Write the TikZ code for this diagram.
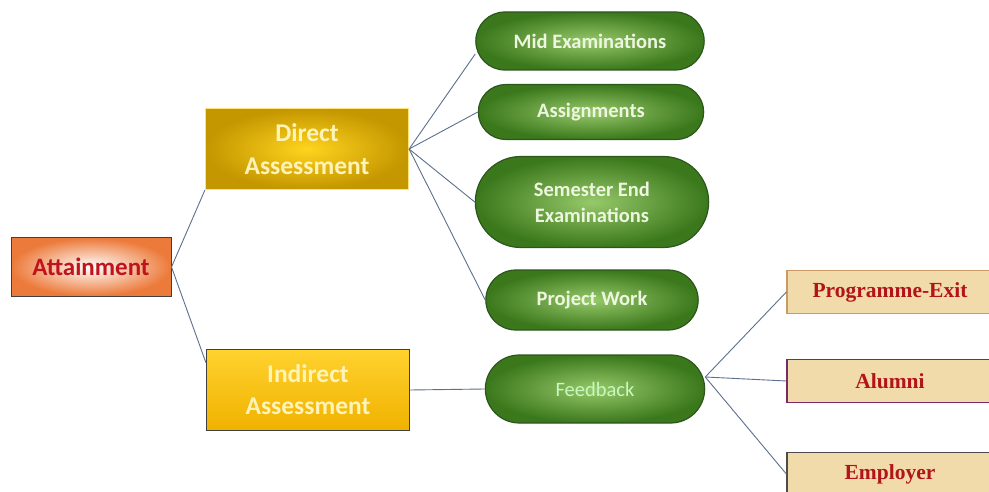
\documentclass[tikz,border=0pt]{standalone}
\usepackage{fontspec}
\setmainfont{Carlito}
\newfontfamily\timesfont{Liberation Serif}
\usetikzlibrary{shapes.misc}

\begin{document}
\begin{tikzpicture}[x=1pt, y=-1pt,
    link/.style={draw=linkcolor, line width=0.9pt},
    rootbox/.style={rectangle, draw=black!75, line width=1pt, inner color=white, outer color=attorange,
        minimum width=160pt, minimum height=58pt, text=attred, font=\fontsize{25}{30}\selectfont\bfseries},
    goldbox/.style={rectangle, line width=1.2pt, align=center, text=textcream,
        minimum width=203pt, minimum height=81pt, font=\fontsize{25.5}{33}\selectfont\bfseries},
    pill/.style={rounded rectangle, draw=greenborder, line width=1.2pt, inner color=greenlight, outer color=greendark,
        align=center, text=greentext, font=\fontsize{20.5}{26}\selectfont\bfseries},
    sourcebox/.style={rectangle, fill=parch, line width=1.3pt, minimum width=206pt, minimum height=43pt,
        text=parchtext, font=\fontsize{21.5}{24}\timesfont\bfseries}
]

    % Define colors
    \definecolor{linkcolor}{HTML}{5B6F8E}
    \definecolor{attorange}{HTML}{EC7A3A}
    \definecolor{attred}{HTML}{C0141C}
    \definecolor{golddark}{HTML}{C49600}
    \definecolor{goldlight}{HTML}{FFD41E}
    \definecolor{goldborder}{HTML}{FFE37A}
    \definecolor{textcream}{HTML}{FFF3B8}
    \definecolor{indtop}{HTML}{FFD22E}
    \definecolor{indbottom}{HTML}{F0B200}
    \definecolor{greendark}{HTML}{3B781C}
    \definecolor{greenlight}{HTML}{96C96A}
    \definecolor{greenborder}{HTML}{2C561C}
    \definecolor{greentext}{HTML}{EEF6E0}
    \definecolor{parch}{HTML}{F1DBAA}
    \definecolor{parchborder}{HTML}{C99A66}
    \definecolor{alumniborder}{HTML}{7B2A68}
    \definecolor{parchtext}{HTML}{B3141A}

    \useasboundingbox (0,0) rectangle (989,492);
    \clip (0,0) rectangle (989,492);

    % ===== ROOT =====
    \node[rootbox] (att) at (91,267) {Attainment};

    % ===== ASSESSMENT TYPES =====
    \node[goldbox, draw=goldborder, inner color=goldlight, outer color=golddark] (direct) at (307,149) {Direct\\Assessment};
    \node[goldbox, draw=black!75, top color=indtop, bottom color=indbottom, font=\fontsize{25.5}{32}\selectfont\bfseries] (indirect) at (308,390) {Indirect\\Assessment};

    % ===== DIRECT TOOLS =====
    \node[pill, minimum width=235pt, minimum height=58pt] (mid) at (590,41) {Mid Examinations};
    \node[pill, minimum width=232pt, minimum height=55pt] (assign) at (591,112) {Assignments};
    \node[pill, minimum width=240pt, minimum height=91pt] (semend) at (592,202) {Semester End\\Examinations};
    \node[pill, minimum width=219pt, minimum height=60pt] (project) at (592,300) {Project Work};

    % ===== INDIRECT TOOL =====
    \node[pill, minimum width=226pt, minimum height=68pt, font=\fontsize{20.5}{24}\selectfont, text=greentext!85!green] (feedback) at (595,389) {Feedback};

    % ===== FEEDBACK SOURCES =====
    \node[sourcebox, draw=parchborder] (progexit) at (890,292) {Programme-Exit};
    \node[sourcebox, draw=alumniborder] (alumni) at (890,381) {Alumni};
    \node[sourcebox, draw=black!70] (employer) at (890,474) {Employer};

    % ===== CONNECTORS =====
    \draw[link] (att.east) -- (direct.south west);
    \draw[link] (att.east) -- (indirect.165);

    \draw[link] (direct.east) -- ([yshift=-13pt]mid.west);
    \draw[link] (direct.east) -- (assign.west);
    \draw[link] (direct.east) -- (semend.west);
    \draw[link] (direct.east) -- (project.west);

    \draw[link] (indirect.east) -- (feedback.west);

    \draw[link] ([yshift=12pt]feedback.east) -- (progexit.west);
    \draw[link] ([yshift=12pt]feedback.east) -- (alumni.west);
    \draw[link] ([yshift=12pt]feedback.east) -- (employer.west);

\end{tikzpicture}
\end{document}
